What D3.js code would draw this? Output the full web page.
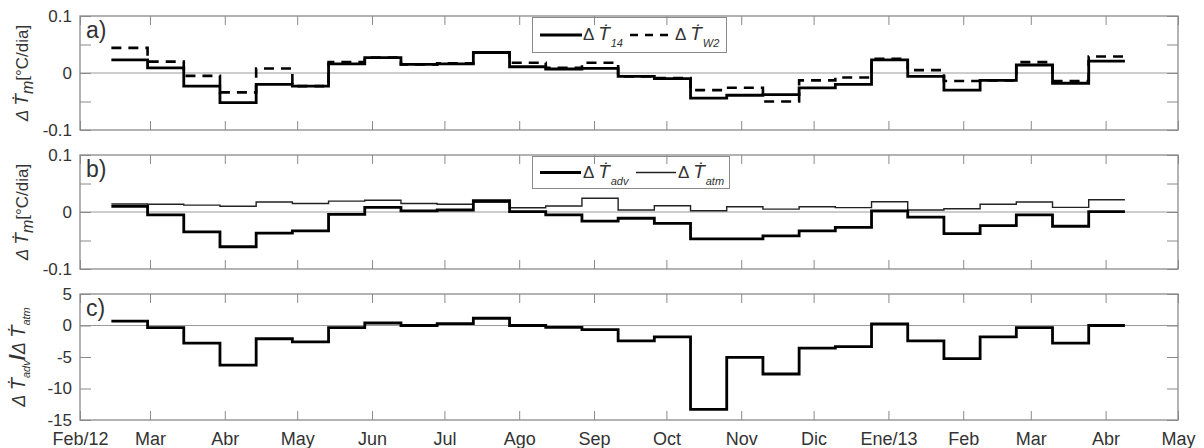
<!DOCTYPE html>
<html>
<head>
<meta charset="utf-8">
<script src="https://cdn.jsdelivr.net/npm/d3@7"></script>
<style>
  body { margin: 0; background: #fff; }
  svg { font-family: "Liberation Sans", Arial, "DejaVu Sans", sans-serif; }
</style>
</head>
<body>
<svg id="chart" width="1204" height="448"></svg>
<script>
// period boundaries (15-day means), last entry closes the final step
var periodDates = ["2012-02-14","2012-02-29","2012-03-15","2012-03-30","2012-04-14","2012-04-29",
  "2012-05-14","2012-05-29","2012-06-13","2012-06-28","2012-07-13","2012-07-28","2012-08-12",
  "2012-08-27","2012-09-11","2012-09-26","2012-10-11","2012-10-26","2012-11-10","2012-11-25",
  "2012-12-10","2012-12-25","2013-01-09","2013-01-24","2013-02-08","2013-02-23","2013-03-10",
  "2013-03-25","2013-04-09"];

var t14  = [0.023, 0.009, -0.023, -0.052, -0.020, -0.023, 0.016, 0.027, 0.015, 0.016, 0.036, 0.011,
  0.007, 0.008, -0.006, -0.010, -0.044, -0.039, -0.038, -0.026, -0.020, 0.023, -0.006, -0.030,
  -0.013, 0.014, -0.018, 0.021];
var tw2  = [0.044, 0.020, -0.005, -0.034, 0.008, -0.023, 0.019, 0.027, 0.015, 0.017, 0.036, 0.018,
  0.009, 0.018, -0.006, -0.009, -0.030, -0.026, -0.050, -0.013, -0.008, 0.025, 0.005, -0.014,
  -0.013, 0.019, -0.014, 0.029];
var tadv = [0.010, -0.005, -0.035, -0.061, -0.037, -0.033, -0.004, 0.008, 0.002, 0.0035, 0.020, 0.0005,
  -0.005, -0.016, -0.011, -0.020, -0.047, -0.047, -0.042, -0.033, -0.027, 0.002, -0.009, -0.038,
  -0.024, -0.005, -0.025, 0.0005];
var tatm = [0.014, 0.0135, 0.012, 0.010, 0.0175, 0.015, 0.019, 0.0205, 0.015, 0.0135, 0.017, 0.0075,
  0.0105, 0.024, 0.0035, 0.011, 0.0023, 0.0093, 0.005, 0.0093, 0.0076, 0.018, 0.0035, 0.0058,
  0.0135, 0.0175, 0.0082, 0.0216];
var ratio = [0.7, -0.35, -2.8, -6.3, -2.1, -2.6, -0.35, 0.4, 0.0, 0.3, 1.15, 0.0, -0.3, -0.65,
  -2.45, -1.8, -13.3, -5.05, -7.7, -3.6, -3.35, 0.25, -2.45, -5.25, -1.8, -0.35, -2.8, 0.0];

var monthTicks = ["2012-02-01","2012-03-01","2012-04-01","2012-05-01","2012-06-01","2012-07-01",
  "2012-08-01","2012-09-01","2012-10-01","2012-11-01","2012-12-01","2013-01-01","2013-02-01",
  "2013-03-01","2013-04-01","2013-05-01"];
var monthLabels = ["Feb/12","Mar","Abr","May","Jun","Jul","Ago","Sep","Oct","Nov","Dic",
  "Ene/13","Feb","Mar","Abr","May"];
var yTicksAB = [-0.1, -0.05, 0, 0.05, 0.1];
var yLabelsAB = [-0.1, 0, 0.1];
var yTicksC = [-15, -10, -5, 0, 5];

var svg = d3.select("#chart");
var parse = d3.timeParse("%Y-%m-%d");
var dates = periodDates.map(parse);
var ticks = monthTicks.map(parse);
var left = 80, right = 1178;
var frameColor = "#8a8a8a", textColor = "#333";

var x = d3.scaleTime()
    .domain([parse("2012-02-01"), parse("2013-05-01")])
    .range([left, right]);

function stairs(vals) {
    var pts = vals.map(function(v, i) { return [dates[i], v]; });
    pts.push([dates[dates.length - 1], vals[vals.length - 1]]);
    return pts;
}

var panels = [
    { top: 16, bottom: 130, domain: [-0.1, 0.1], ticks: yTicksAB, labels: yLabelsAB, tag: "a)",
      series: [ { v: t14, w: 2.8, dash: null, c: "#000" },
                { v: tw2, w: 2.6, dash: "10,7", c: "#000" } ] },
    { top: 155, bottom: 269, domain: [-0.1, 0.1], ticks: yTicksAB, labels: yLabelsAB, tag: "b)",
      series: [ { v: tatm, w: 1.4, dash: null, c: "#222" },
                { v: tadv, w: 2.8, dash: null, c: "#000" } ] },
    { top: 294, bottom: 420, domain: [-15, 5], ticks: yTicksC, labels: yTicksC, tag: "c)",
      series: [ { v: ratio, w: 2.8, dash: null, c: "#000" } ] }
];

panels.forEach(function(p, pi) {
    var y = d3.scaleLinear().domain(p.domain).range([p.bottom, p.top]);
    var g = svg.append("g");

    // zero line
    g.append("line")
        .attr("x1", left).attr("x2", right)
        .attr("y1", y(0)).attr("y2", y(0))
        .attr("stroke", "#9a9a9a").attr("stroke-width", 1);

    var line = d3.line()
        .x(function(d) { return x(d[0]); })
        .y(function(d) { return y(d[1]); })
        .curve(d3.curveStepAfter);

    p.series.forEach(function(s) {
        g.append("path")
            .attr("d", line(stairs(s.v)))
            .attr("fill", "none")
            .attr("stroke", s.c)
            .attr("stroke-width", s.w)
            .attr("stroke-dasharray", s.dash);
    });

    p.y = y;
    p.g = g;
});

// legends
function legendLabel(g, xPos, yBase, sub) {
    var t = g.append("text")
        .attr("x", xPos).attr("y", yBase)
        .attr("fill", textColor)
        .style("font-size", "17px");
    t.append("tspan").text("Δ ");
    t.append("tspan").style("font-style", "italic").style("font-size", "19px").text("Ṫ");
    t.append("tspan").style("font-style", "italic").style("font-size", "11px")
        .attr("dx", 1).attr("dy", 7).text(sub);
}

var la = panels[0].g;
la.append("rect").attr("x", 532.5).attr("y", 17.5).attr("width", 194).attr("height", 35)
    .attr("fill", "#fff").attr("stroke", frameColor).attr("stroke-width", 1);
la.append("line").attr("x1", 540).attr("x2", 582).attr("y1", 35).attr("y2", 35)
    .attr("stroke", "#000").attr("stroke-width", 2.8);
legendLabel(la, 583, 40, "14");
la.append("line").attr("x1", 630).attr("x2", 672).attr("y1", 35).attr("y2", 35)
    .attr("stroke", "#000").attr("stroke-width", 2.6).attr("stroke-dasharray", "8,7");
legendLabel(la, 675, 40, "W2");

var lb = panels[1].g;
lb.append("rect").attr("x", 532.5).attr("y", 156.5).attr("width", 197).attr("height", 32)
    .attr("fill", "#fff").attr("stroke", frameColor).attr("stroke-width", 1);
lb.append("line").attr("x1", 540).attr("x2", 581).attr("y1", 172.5).attr("y2", 172.5)
    .attr("stroke", "#000").attr("stroke-width", 2.8);
legendLabel(lb, 583, 177.5, "adv");
lb.append("line").attr("x1", 636).attr("x2", 676).attr("y1", 172.5).attr("y2", 172.5)
    .attr("stroke", "#222").attr("stroke-width", 1.4);
legendLabel(lb, 678, 177.5, "atm");

// axes, ticks and frames on top
panels.forEach(function(p, pi) {
    var g = p.g, y = p.y;
    var last = pi === panels.length - 1;

    var top = g.append("g").attr("transform", "translate(0," + p.top + ")")
        .call(d3.axisTop(x).tickValues(ticks).tickSize(-9).tickFormat(""));
    var bot = g.append("g").attr("transform", "translate(0," + p.bottom + ")")
        .call(d3.axisBottom(x).tickValues(ticks).tickSize(-9).tickPadding(12)
            .tickFormat(function(d, i) { return last ? monthLabels[i] : ""; }));
    var yl = g.append("g").attr("transform", "translate(" + left + ",0)")
        .call(d3.axisLeft(y).tickValues(p.ticks).tickSize(-11).tickPadding(8)
            .tickFormat(function(d) { return p.labels.indexOf(d) >= 0 ? String(d) : ""; }));
    var yr = g.append("g").attr("transform", "translate(" + right + ",0)")
        .call(d3.axisRight(y).tickValues(p.ticks).tickSize(-11).tickFormat(""));

    [top, bot, yl, yr].forEach(function(a) {
        a.select(".domain").remove();
        a.selectAll(".tick line").attr("stroke", frameColor).attr("stroke-width", 1);
        a.selectAll(".tick text").attr("fill", textColor)
            .style("font-family", "'Liberation Sans', Arial, sans-serif");
    });
    yl.selectAll(".tick text").style("font-size", "17px");
    bot.selectAll(".tick text").style("font-size", "18px");

    g.append("rect")
        .attr("x", left).attr("y", p.top)
        .attr("width", right - left).attr("height", p.bottom - p.top)
        .attr("fill", "none").attr("stroke", frameColor).attr("stroke-width", 1.3);

    g.append("text")
        .attr("x", 86).attr("y", p.top + 22)
        .attr("fill", textColor)
        .style("font-size", "23px")
        .text(p.tag);
});

// y titles
function unitTitle(p) {
    var cy = (p.top + p.bottom) / 2;
    var t = svg.append("text")
        .attr("transform", "translate(28," + cy + ") rotate(-90)")
        .attr("text-anchor", "middle")
        .attr("fill", textColor)
        .style("font-size", "17px");
    t.append("tspan").style("font-style", "italic").text("Δ ");
    t.append("tspan").style("font-style", "italic").style("font-size", "19px").text("Ṫ");
    t.append("tspan").style("font-style", "italic").style("font-size", "16px").attr("dy", 5).text("m");
    t.append("tspan").attr("dy", -5).text("[°C/dia]");
}
unitTitle(panels[0]);
unitTitle(panels[1]);

(function() {
    var p = panels[2];
    var cy = (p.top + p.bottom) / 2;
    var t = svg.append("text")
        .attr("transform", "translate(25," + cy + ") rotate(-90)")
        .attr("text-anchor", "middle")
        .attr("fill", textColor)
        .style("font-size", "18px");
    t.append("tspan").style("font-style", "italic").text("Δ ");
    t.append("tspan").style("font-style", "italic").style("font-size", "20px").text("Ṫ");
    t.append("tspan").style("font-style", "italic").style("font-size", "11px").attr("dy", 5).text("adv");
    t.append("tspan").attr("dy", -5).style("font-weight", "bold").style("font-size", "22px").text("/");
    t.append("tspan").style("font-style", "italic").text("Δ ");
    t.append("tspan").style("font-style", "italic").style("font-size", "20px").text("Ṫ");
    t.append("tspan").style("font-style", "italic").style("font-size", "11px").attr("dy", 5).text("atm");
})();
</script>
</body>
</html>
